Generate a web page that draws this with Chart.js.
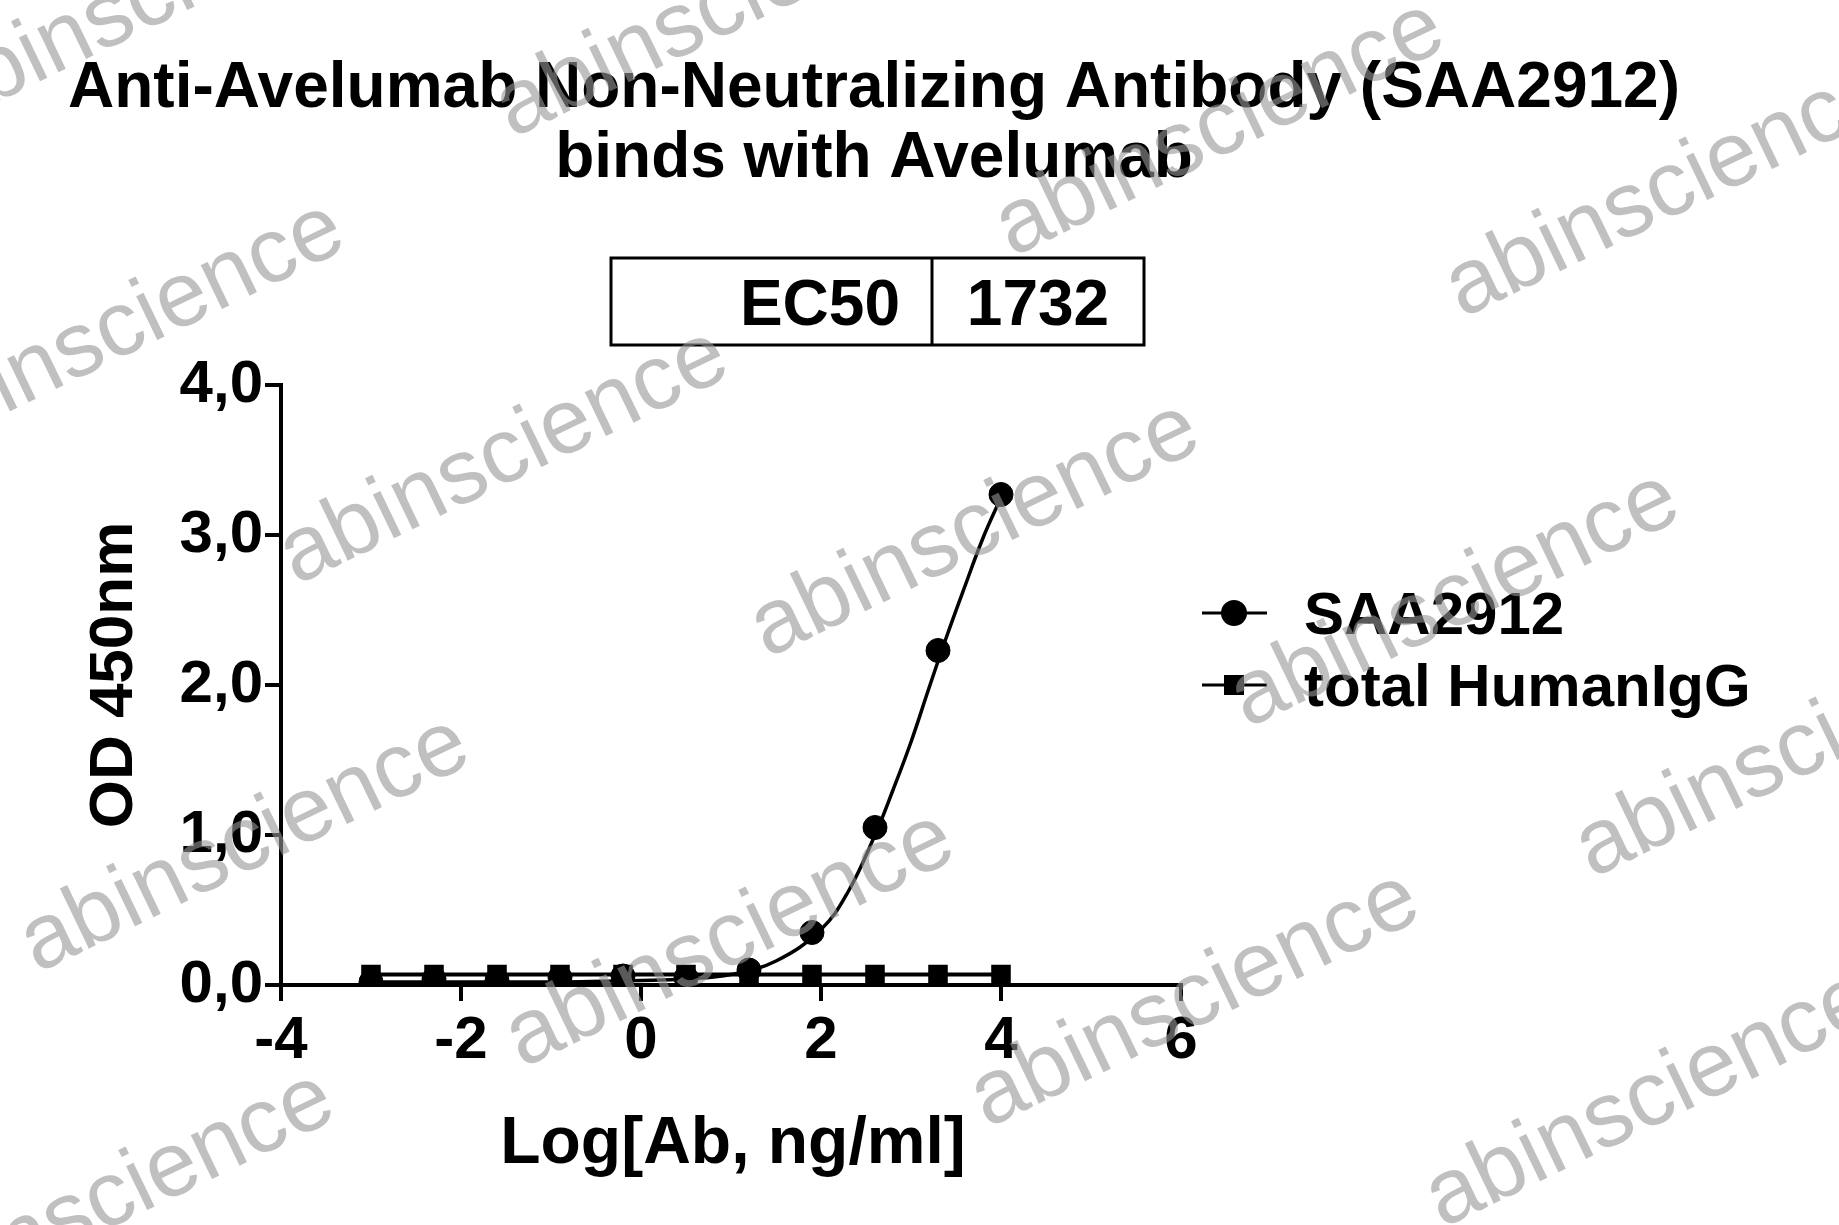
<!DOCTYPE html>
<html><head><meta charset="utf-8">
<script src="https://cdn.jsdelivr.net/npm/chart.js@4"></script>
<style>html,body{margin:0;padding:0;background:#fff}#c{display:block}</style>
</head><body>
<canvas id="c" width="1839" height="1225"></canvas>
<script>
const xDoses = [-3.0, -2.3, -1.6, -0.9, -0.2, 0.5, 1.2, 1.9, 2.6, 3.3, 4.0];
const saaValues = [0.02, 0.04, 0.03, 0.05, 0.06, 0.05, 0.10, 0.35, 1.05, 2.23, 3.27];
const iggValues = [0.07, 0.07, 0.07, 0.07, 0.07, 0.07, 0.07, 0.07, 0.07, 0.07, 0.07];
const fitX = [-3.0, -2.0, -1.0, 0.0, 0.5, 1.0, 1.5, 2.0, 2.3, 2.6, 2.8, 3.0, 3.2, 3.4, 3.6, 3.8, 4.0];
const fitY = [0.02, 0.02, 0.02, 0.03, 0.04, 0.07, 0.16, 0.37, 0.62, 1.0, 1.3, 1.62, 1.98, 2.33, 2.66, 2.98, 3.25];
const xTicks = [-4, -2, 0, 2, 4, 6];
const yTicks = [0, 1, 2, 3, 4];
const titleLines = ["Anti-Avelumab Non-Neutralizing Antibody (SAA2912)", "binds with Avelumab"];
const ec50Label = "EC50", ec50Value = "1732";
const legendLabels = ["SAA2912", "total HumanIgG"];
const watermarks = [[150,0],[720,10],[1220,129],[1670,190],[120,330],[504,457],[975,530],[1455,600],[1800,750],[245,845],[730,940],[1195,1000],[1650,1100],[110,1200]];

const NARROW = (px)=>'bold '+px+'px "Liberation Sans Narrow","Liberation Sans",Arial,sans-serif';
const overlay = {
  id:'overlay',
  afterDraw(chart){
    const c = chart.ctx;
    c.save();
    c.fillStyle='#000'; c.textAlign='center'; c.textBaseline='alphabetic';
    c.font='bold 64px "Liberation Sans",Arial,sans-serif';
    c.fillText(titleLines[0], 874, 107);
    c.fillText(titleLines[1], 874, 177);
    c.lineWidth=3; c.strokeStyle='#000';
    c.strokeRect(611,258,533,87);
    c.beginPath(); c.moveTo(932,258); c.lineTo(932,345); c.stroke();
    c.font=NARROW(64); c.textAlign='right';
    c.fillText(ec50Label, 900, 325);
    c.textAlign='center'; c.fillText(ec50Value, 1038, 325);
    c.font=NARROW(66);
    c.fillText('Log[Ab, ng/ml]', 733, 1163);
    c.save(); c.translate(132,675); c.rotate(-Math.PI/2);
    c.font='bold 62px "Liberation Sans",Arial,sans-serif';
    c.fillText('OD 450nm',0,0); c.restore();
    c.lineWidth=3;
    const ly=[613,685];
    ly.forEach((y,i)=>{
      c.beginPath(); c.moveTo(1202,y); c.lineTo(1267,y); c.stroke();
      c.beginPath();
      if(i===0){ c.arc(1234,y,13,0,Math.PI*2); c.fill(); }
      else { c.fillRect(1224,y-10,20,20); }
      c.textAlign='left'; c.font=NARROW(60);
      c.fillText(legendLabels[i], 1304, y+21);
    });
    c.font='92px "Liberation Sans",Arial,sans-serif';
    c.fillStyle='rgba(150,150,150,0.6)'; c.textAlign='center'; c.textBaseline='middle';
    watermarks.forEach(([x,y])=>{
      c.save(); c.translate(x,y); c.rotate(-0.45); c.fillText('abinscience',0,0); c.restore();
    });
    c.restore();
  }
};

const tickFont = {family:'"Liberation Sans Narrow","Liberation Sans",Arial,sans-serif', size:60, weight:'bold'};
new Chart(document.getElementById('c'), {
  type:'line',
  data:{datasets:[
    {data:fitX.map((x,i)=>({x, y:fitY[i]})), borderColor:'#000', borderWidth:3.5, pointRadius:0, tension:0.4, fill:false},
    {data:xDoses.map((x,i)=>({x, y:iggValues[i]})), borderColor:'#000', backgroundColor:'#000', borderWidth:4, pointStyle:'rect', pointRadius:11, fill:false},
    {data:xDoses.map((x,i)=>({x, y:saaValues[i]})), showLine:false, borderColor:'#000', backgroundColor:'#000', pointStyle:'circle', pointRadius:12}
  ]},
  options:{
    responsive:false, animation:false,
    layout:{padding:{left:0, right:658, top:385, bottom:0}},
    plugins:{legend:{display:false}, tooltip:{enabled:false}},
    scales:{
      x:{type:'linear', min:-4, max:6, afterBuildTicks:s=>{s.ticks=xTicks.map(v=>({value:v}))},
        afterFit:s=>{s.height=240},
        border:{color:'#000', width:4},
        grid:{drawOnChartArea:false, color:'#000', lineWidth:4, tickLength:16},
        ticks:{color:'#000', font:tickFont, padding:4, maxRotation:0}},
      y:{type:'linear', min:0, max:4, afterBuildTicks:s=>{s.ticks=yTicks.map(v=>({value:v}))},
        afterFit:s=>{s.width=281},
        border:{color:'#000', width:4},
        grid:{drawOnChartArea:false, color:'#000', lineWidth:4, tickLength:16},
        ticks:{color:'#000', font:tickFont, padding:2, callback:v=>v.toFixed(1).replace('.',',')}}
    }
  },
  plugins:[overlay]
});
</script>
</body></html>
